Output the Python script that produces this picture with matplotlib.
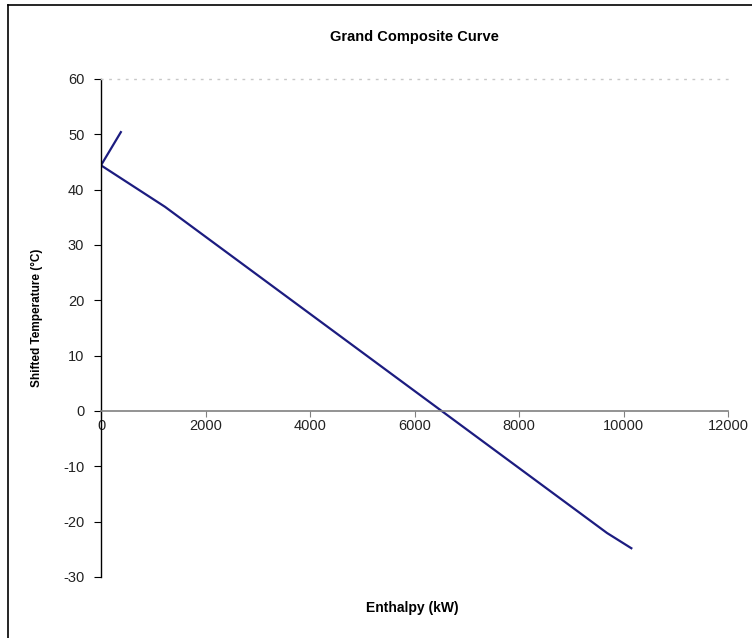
import matplotlib.pyplot as plt
from matplotlib.lines import Line2D

# Grand composite curve
enthalpy_kw = [380, 0, 1225, 9685, 10150]
shifted_temp_c = [50.4, 44.4, 36.9, -22.05, -24.8]

x_ticks = [0, 2000, 4000, 6000, 8000, 10000, 12000]
y_ticks = [-30, -20, -10, 0, 10, 20, 30, 40, 50, 60]

plt.rcParams["font.family"] = ["Liberation Sans", "DejaVu Sans"]
plt.rcParams["axes.unicode_minus"] = False

fig = plt.figure(figsize=(7.52, 6.38), dpi=100)
ax = fig.add_axes([101 / 752, 61 / 638, 627 / 752, 498 / 638])

ax.plot(enthalpy_kw, shifted_temp_c, color="#1c1c80", linewidth=1.6,
        solid_joinstyle="round")

ax.set_xlim(0, 12000)
ax.set_ylim(-30, 60)
ax.set_xticks(x_ticks)
ax.set_yticks(y_ticks)

# x axis crosses at zero, excel style
ax.spines["bottom"].set_position(("data", 0))
ax.spines["bottom"].set_color("#808080")
ax.spines["bottom"].set_linewidth(1.2)
ax.spines["left"].set_color("black")
ax.spines["left"].set_linewidth(1.0)
ax.spines["right"].set_visible(False)
ax.spines["top"].set_color("#c8c8c8")
ax.spines["top"].set_linestyle((0, (1, 5)))
ax.spines["top"].set_linewidth(1.0)

ax.tick_params(axis="x", direction="out", length=4, color="#808080",
               labelsize=10.5, pad=2, labelcolor="#222222")
ax.tick_params(axis="y", direction="out", length=5, color="black",
               labelsize=10.5, pad=7, labelcolor="#222222")

ax.set_title("Grand Composite Curve", fontsize=10.5, fontweight="bold", pad=27)
ax.set_xlabel("Enthalpy (kW)", fontsize=10, fontweight="bold", labelpad=0)
ax.xaxis.set_label_coords(0.497, -0.048)
ax.set_ylabel("Shifted Temperature (°C)", fontsize=8.5, fontweight="bold",
              family=["Liberation Sans Narrow", "Liberation Sans", "DejaVu Sans"])
ax.yaxis.set_label_coords(-0.092, 0.52)

# chart frame, only left and top edges are inside the picture
fig.add_artist(Line2D([8 / 752, 8 / 752], [0, 1 - 5 / 638], color="black",
                      linewidth=1.2, transform=fig.transFigure))
fig.add_artist(Line2D([8 / 752, 1], [1 - 5 / 638, 1 - 5 / 638], color="black",
                      linewidth=1.2, transform=fig.transFigure))

fig.savefig("out.png", dpi=100)
